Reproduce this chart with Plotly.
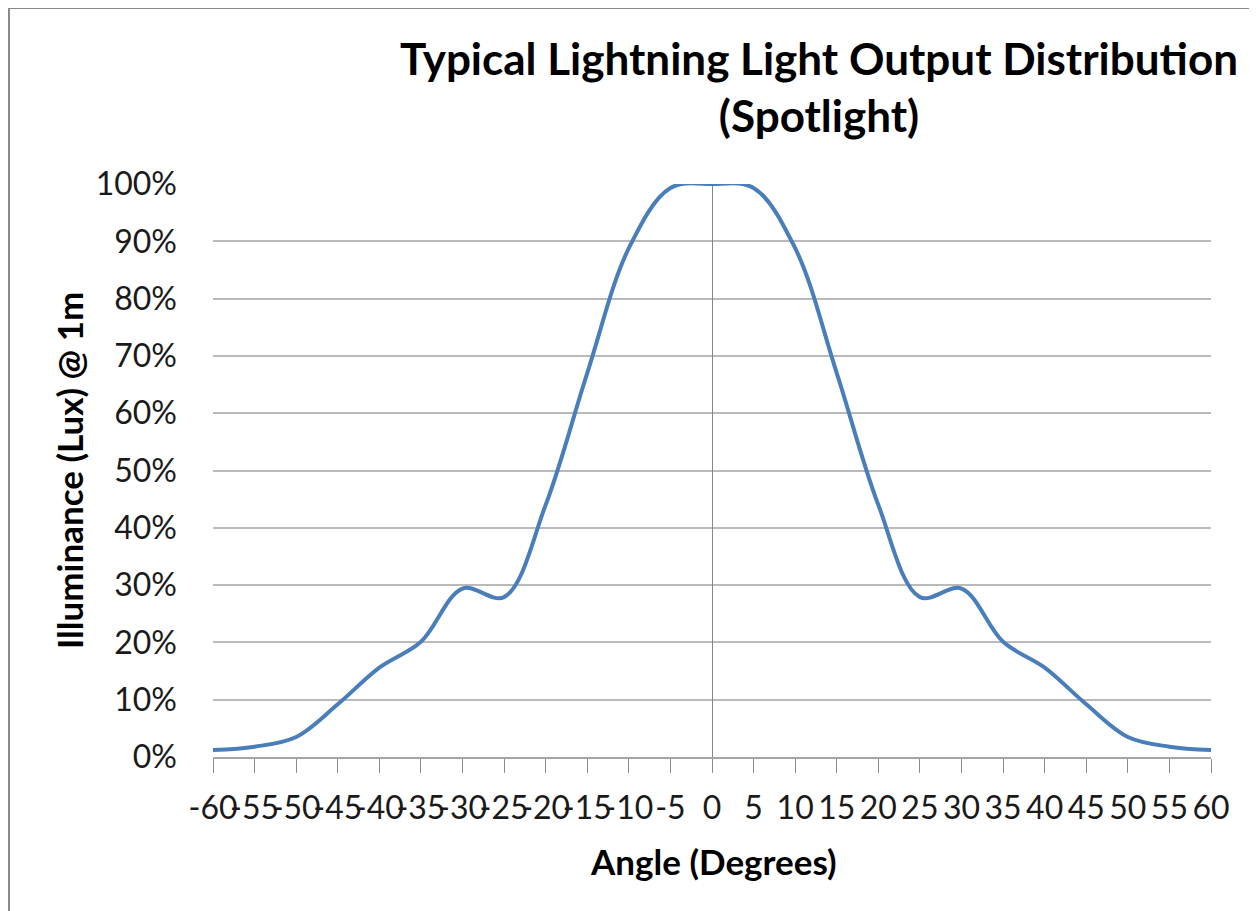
import plotly.graph_objects as go

angles = [-60, -55, -50, -45, -40, -35, -30, -25, -20, -15, -10, -5, 0,
          5, 10, 15, 20, 25, 30, 35, 40, 45, 50, 55, 60]
illuminance = [0.012, 0.018, 0.035, 0.092, 0.156, 0.201, 0.294, 0.279, 0.44, 0.67, 0.888, 0.993, 1.0,
               0.993, 0.888, 0.67, 0.44, 0.279, 0.294, 0.201, 0.156, 0.092, 0.035, 0.018, 0.012]
y_ticks = [0, 0.1, 0.2, 0.3, 0.4, 0.5, 0.6, 0.7, 0.8, 0.9, 1.0]

FONT = "Lato"
OFF = 8  # page body margin of the html page
W, H = 1257 - OFF, 911 - OFF
# plot area in page pixels
L, R, T, B = 213, 1211, 184, 757


def px_x(p):
    return (p - L) / (R - L)


def px_y(p):
    return (B - p) / (B - T)


fig = go.Figure()
fig.add_trace(go.Scatter(
    x=angles, y=illuminance, mode="lines",
    line=dict(color="#4A7EBB", width=4, shape="spline", smoothing=1.0),
    showlegend=False, hoverinfo="x+y",
))

fig.update_layout(
    width=W, height=H,
    margin=dict(l=L - OFF, r=W - (R - OFF), t=T - OFF, b=H - (B - OFF)),
    paper_bgcolor="white", plot_bgcolor="white",
    font=dict(family=FONT, color="#1a1a1a"),
    title=dict(
        text="Typical Lightning Light Output Distribution<br>(Spotlight)",
        font=dict(family=FONT, size=44, color="#000000", weight="bold"),
        xref="paper", x=px_x(819), xanchor="center",
        yref="container", y=1 - (74.5 - OFF) / H, yanchor="middle",
    ),
    xaxis=dict(
        range=[-60, 60], tickmode="array", tickvals=angles,
        ticktext=[str(a) for a in angles], tickangle=0,
        ticks="outside", ticklen=14, tickcolor="#8c8c8c", tickwidth=1,
        showline=True, linecolor="#a6a6a6", linewidth=1.5,
        showgrid=False, zeroline=True, zerolinecolor="#868686", zerolinewidth=1,
        tickfont=dict(family=FONT, size=32, color="#1a1a1a"),
        ticklabelstandoff=8,
        fixedrange=True,
    ),
    yaxis=dict(
        range=[0, 1], tickvals=y_ticks, tickformat=".0%",
        showgrid=True, gridcolor="#bababa", gridwidth=1.8,
        zeroline=False, showline=False, ticks="",
        tickfont=dict(family=FONT, size=32, color="#1a1a1a"),
        ticklabelstandoff=35,
        fixedrange=True,
    ),
    annotations=[
        dict(text="Angle (Degrees)", xref="paper", yref="paper",
             x=px_x(713), y=px_y(861), xanchor="center", yanchor="middle",
             showarrow=False, font=dict(family=FONT, size=35, color="#000000", weight="bold")),
        dict(text="Illuminance (Lux) @ 1m", xref="paper", yref="paper",
             x=px_x(69), y=px_y(471), xanchor="center", yanchor="middle",
             textangle=-90, showarrow=False,
             font=dict(family=FONT, size=35, color="#000000", weight="bold")),
    ],
    shapes=[
        dict(type="rect", xref="paper", yref="paper",
             x0=px_x(9), x1=px_x(1251), y0=px_y(925), y1=px_y(8),
             line=dict(color="#8a8a8a", width=2), fillcolor="rgba(0,0,0,0)", layer="below"),
    ],
)

fig.write_html("out.html")
